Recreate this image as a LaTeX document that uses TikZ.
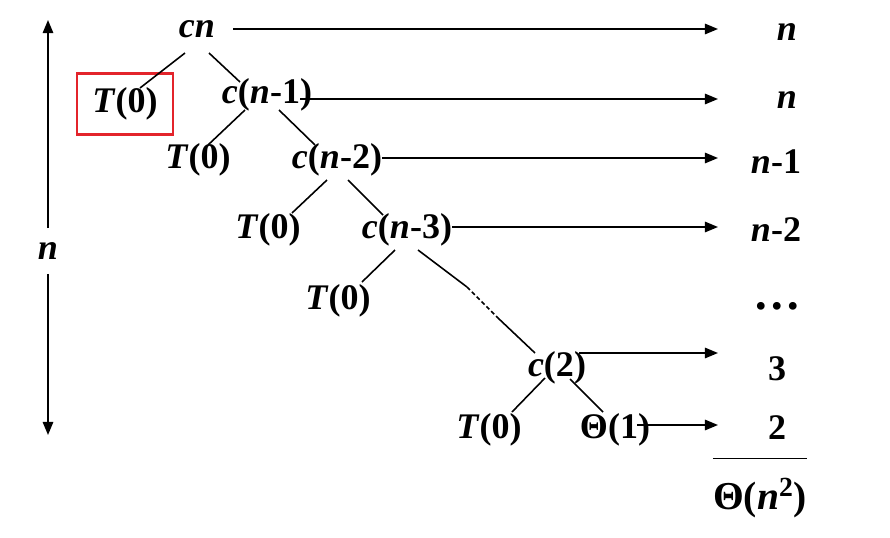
\documentclass[tikz,border=0pt]{standalone}
\usepackage{fontspec}
\setmainfont{Liberation Serif}
\usepackage{tikz}
\usetikzlibrary{arrows.meta,calc}
\definecolor{boxred}{HTML}{E3242B}

\begin{document}
\begin{tikzpicture}[x=0.02cm, y=-0.02cm,
    lbl/.style={inner sep=0pt, font=\fontsize{20.5}{24}\selectfont\bfseries},
    edge/.style={line width=0.9pt},
    arr/.style={line width=0.9pt, -{Triangle[length=7.5pt, width=6pt]}}]
    \useasboundingbox (0,0) rectangle (890,538);

    % tree of calls
    \node[lbl] (cn) at (197,29) {\textit{cn}};
    \node[lbl, draw=boxred, line width=1.2pt, minimum width=1.92cm, minimum height=1.22cm] (t1) at (125,104) {\textit{T}(0)};
    \node[lbl] (c1) at (267,95) {\textit{c}(\textit{n}-1)};
    \node[lbl] (t2) at (198,160) {\textit{T}(0)};
    \node[lbl] (c2) at (337,160) {\textit{c}(\textit{n}-2)};
    \node[lbl] (t3) at (268,230) {\textit{T}(0)};
    \node[lbl] (c3) at (407,230) {\textit{c}(\textit{n}-3)};
    \node[lbl] (t4) at (338,301) {\textit{T}(0)};
    \node[lbl] (ctwo) at (557,368) {\textit{c}(2)};
    \node[lbl] (t5) at (489,430) {\textit{T}(0)};
    \node[lbl] (th1) at (615,430) {Θ(1)};

    % cost per level
    \node[lbl] (r0) at (787,32) {\textit{n}};
    \node[lbl] (r1) at (787,100) {\textit{n}};
    \node[lbl] (r2) at (776,162) {\textit{n}-1};
    \node[lbl] (r3) at (776,230) {\textit{n}-2};
    \node[lbl, font=\fontsize{27}{30}\selectfont\bfseries] (r4) at (777,306) {\dots};
    \node[lbl] (r5) at (777,369) {3};
    \node[lbl] (r6) at (777,428) {2};
    \node[lbl, inner ysep=11pt, font=\fontsize{22.5}{26}\selectfont\bfseries] (sum) at (760,498) {Θ(\textit{n}\textsuperscript{2})};
    \draw[edge] (sum.north west) -- (sum.north east);

    % depth
    \node[lbl, inner ysep=8pt] (depth) at (48,251) {\textit{n}};
    \coordinate (top) at (48,20);
    \coordinate (bot) at (48,435);
    \draw[arr] (depth) -- (top);
    \draw[arr] (depth) -- (bot);

    \draw[edge] ([shift={(-12,24)}]cn.center) -- ([shift={(15,-16)}]t1.center);
    \draw[edge] ([shift={(12,24)}]cn.center) -- ([shift={(-27,-13)}]c1.center);
    \draw[edge] ([shift={(-22,15)}]c1.center) -- ([shift={(10,-15)}]t2.center);
    \draw[edge] ([shift={(12,15)}]c1.center) -- ([shift={(-22,-15)}]c2.center);
    \draw[edge] ([shift={(-10,20)}]c2.center) -- ([shift={(24,-17)}]t3.center);
    \draw[edge] ([shift={(11,20)}]c2.center) -- ([shift={(-24,-15)}]c3.center);
    \draw[edge] ([shift={(-12,20)}]c3.center) -- ([shift={(24,-19)}]t4.center);
    \coordinate (k1) at (467,287);
    \coordinate (k2) at (498,318);
    \draw[edge] ([shift={(11,20)}]c3.center) -- (k1);
    \draw[edge, dash pattern=on 2.4pt off 1.5pt] (k1) -- (k2);
    \draw[edge] (k2) -- ([shift={(-22,-15)}]ctwo.center);
    \draw[edge] ([shift={(-12,10)}]ctwo.center) -- ([shift={(23,-18)}]t5.center);
    \draw[edge] ([shift={(13,11)}]ctwo.center) -- ([shift={(-12,-18)}]th1.center);

    % level sums
    \coordinate (tip) at (718,0);
    \draw[arr] ([shift={(18,0)}]cn.east) -- (cn.east -| tip);
    \draw[arr] ([shift={(-12,4)}]c1.east) -- ([shift={(0,4)}]c1.east -| tip);
    \draw[arr] ([shift={(0,-2)}]c2.east) -- ([shift={(0,-2)}]c2.east -| tip);
    \draw[arr] ([shift={(0,-3)}]c3.east) -- ([shift={(0,-3)}]c3.east -| tip);
    \draw[arr] ([shift={(-7,-15)}]ctwo.east) -- ([shift={(0,-15)}]ctwo.east -| tip);
    \draw[arr] ([shift={(-13,-5)}]th1.east) -- ([shift={(0,-5)}]th1.east -| tip);
\end{tikzpicture}
\end{document}
